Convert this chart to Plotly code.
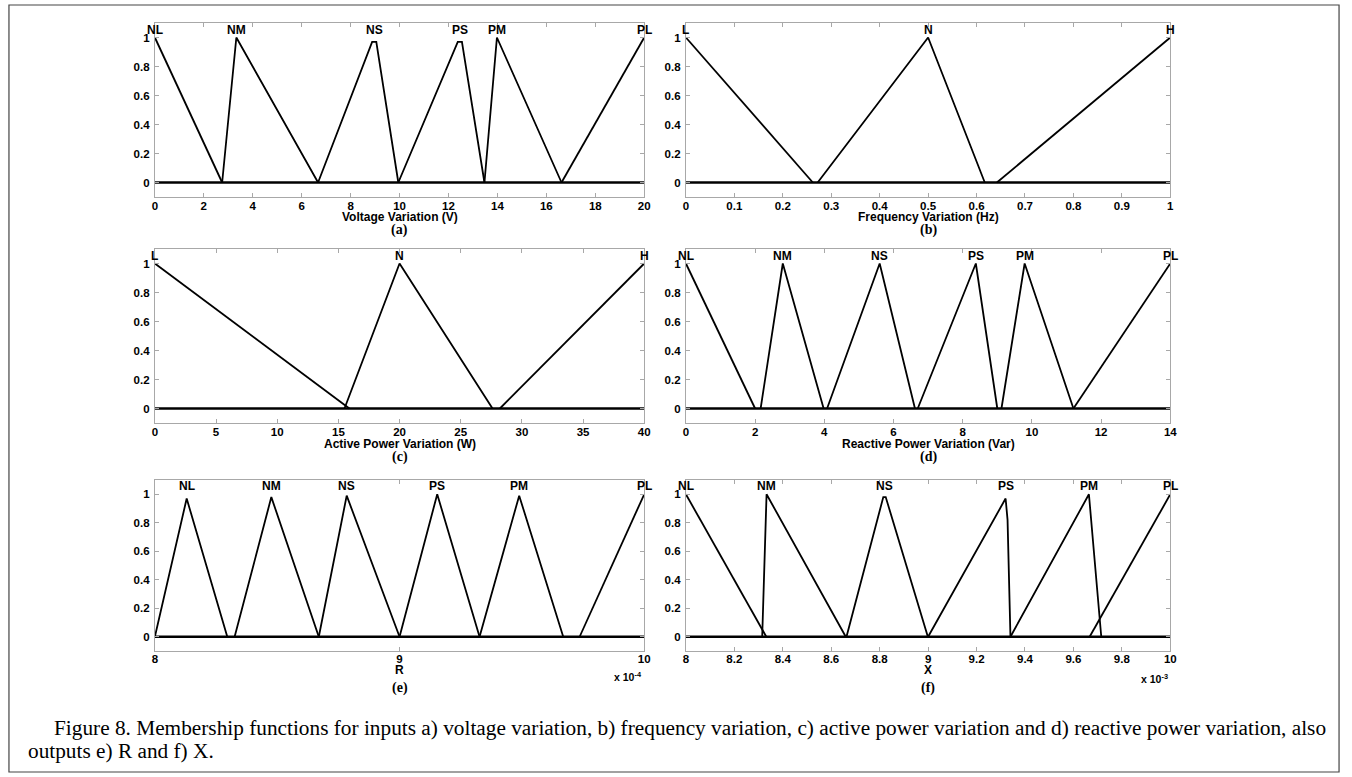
import plotly.graph_objects as go

W, H = 1352, 777

# ---------------- data ----------------
volt_range = [0, 20]
volt_names = ["NL", "NM", "NS", "PS", "PM", "PL"]
volt_x = [[0, 2.75], [2.75, 3.33, 6.67], [6.67, 8.88, 9.05, 9.95],
          [9.95, 12.38, 12.55, 13.47], [13.47, 13.98, 16.62], [16.62, 20]]
volt_y = [[1, 0], [0, 1, 0], [0, 0.97, 0.97, 0], [0, 0.97, 0.97, 0], [0, 1, 0], [0, 1]]
volt_ticks = [0, 2, 4, 6, 8, 10, 12, 14, 16, 18, 20]

freq_range = [0, 1]
freq_names = ["L", "N", "H"]
freq_x = [[0, 0.262], [0.272, 0.5, 0.617], [0.642, 1]]
freq_y = [[1, 0], [0, 1, 0], [0, 1]]
freq_ticks = [0, 0.1, 0.2, 0.3, 0.4, 0.5, 0.6, 0.7, 0.8, 0.9, 1]

act_range = [0, 40]
act_names = ["L", "N", "H"]
act_x = [[0, 15.9], [15.5, 20, 27.6], [28.2, 40]]
act_y = [[1, 0], [0, 1, 0], [0, 1]]
act_ticks = [0, 5, 10, 15, 20, 25, 30, 35, 40]

react_range = [0, 14]
react_names = ["NL", "NM", "NS", "PS", "PM", "PL"]
react_x = [[0, 2.0], [2.16, 2.8, 3.98], [4.08, 5.6, 6.62],
           [6.70, 8.38, 9.0], [9.12, 9.79, 11.2], [11.2, 14]]
react_y = [[1, 0], [0, 1, 0], [0, 1, 0], [0, 1, 0], [0, 1, 0], [0, 1]]
react_ticks = [0, 2, 4, 6, 8, 10, 12, 14]

# R output, values in units of 1e-4
r_range = [8, 10]
r_names = ["NL", "NM", "NS", "PS", "PM", "PL"]
r_x = [[8.0, 8.13, 8.296], [8.326, 8.476, 8.67], [8.67, 8.784, 9.0],
       [9.0, 9.154, 9.327], [9.327, 9.489, 9.669], [9.736, 10]]
r_y = [[0, 0.97, 0], [0, 0.98, 0], [0, 0.99, 0], [0, 1, 0], [0, 0.99, 0], [0, 1]]
r_ticks = [8, 9, 10]

# X output, values in units of 1e-3
x_range = [8, 10]
x_names = ["NL", "NM", "NS", "PS", "PM", "PL"]
x_x = [[8, 8.332], [8.315, 8.333, 8.66], [8.663, 8.815, 8.825, 8.999],
       [9.0, 9.32, 9.328, 9.34], [9.34, 9.664, 9.715], [9.667, 10]]
x_y = [[1, 0], [0, 1, 0], [0, 0.98, 0.98, 0], [0, 0.97, 0.82, 0], [0, 1, 0], [0, 1]]
x_ticks = [8, 8.2, 8.4, 8.6, 8.8, 9, 9.2, 9.4, 9.6, 9.8, 10]

y_ticks = [0, 0.2, 0.4, 0.6, 0.8, 1]

# ---------------- layout helpers ----------------
def px(x):
    return x / W

def py(y):
    return 1 - y / H

LEFT = (153, 646)
RIGHT = (688, 1176)
ROW1, ROW2, ROW3 = (23, 197), (249, 423), (480, 651)
# per row: (tick standoff, title offset, letter offset)
ROWSTYLE = {ROW1: (-2, 20, 33), ROW2: (-2, 21, 34), ROW3: (-3, 19, 37)}

panels = [
    (LEFT, ROW1, volt_names, volt_x, volt_y, volt_range, volt_ticks, "Voltage Variation (V)", "(a)"),
    (RIGHT, ROW1, freq_names, freq_x, freq_y, freq_range, freq_ticks, "Frequency Variation (Hz)", "(b)"),
    (LEFT, ROW2, act_names, act_x, act_y, act_range, act_ticks, "Active Power Variation (W)", "(c)"),
    (RIGHT, ROW2, react_names, react_x, react_y, react_range, react_ticks,
     "Reactive Power Variation (Var)", "(d)"),
    (LEFT, ROW3, r_names, r_x, r_y, r_range, r_ticks, "R", "(e)"),
    (RIGHT, ROW3, x_names, x_x, x_y, x_range, x_ticks, "X", "(f)"),
]

fig = go.Figure()
AX = "#a8a8a8"
tickfont = dict(family="Arial, Liberation Sans, sans-serif", size=11.5, color="black", weight="bold")
annotations = []

for i, (xp, row, names, xs, ys, xr, xt, title, letter) in enumerate(panels):
    top, bot = row
    stand, toff, loff = ROWSTYLE[row]
    n = i + 1
    xa = "x" if n == 1 else f"x{n}"
    ya = "y" if n == 1 else f"y{n}"
    fig.add_trace(go.Scatter(x=xr, y=[0, 0], mode="lines", xaxis=xa, yaxis=ya,
                             line=dict(color="black", width=2.6), hoverinfo="skip",
                             showlegend=False))
    for nm, xv, yv in zip(names, xs, ys):
        fig.add_trace(go.Scatter(x=xv, y=yv, mode="lines", xaxis=xa, yaxis=ya, name=nm,
                                 line=dict(color="black", width=1.8), showlegend=False))
        m = max(yv)
        pk = [a for a, b in zip(xv, yv) if b == m]
        annotations.append(dict(x=sum(pk) / len(pk), y=1.055, xref=xa, yref=ya, text=nm,
                                showarrow=False, font=dict(family="Arial, Liberation Sans", size=12,
                                                           color="black", weight="bold"),
                                xanchor="center", yanchor="middle"))
    axkey = "xaxis" if n == 1 else f"xaxis{n}"
    aykey = "yaxis" if n == 1 else f"yaxis{n}"
    fig.layout[axkey] = dict(domain=[px(xp[0]), px(xp[1])], range=xr, anchor=ya,
                             tickvals=xt, ticks="inside", ticklen=4, tickcolor=AX,
                             showline=True, linecolor=AX, linewidth=1, mirror="ticks",
                             showgrid=False, zeroline=False, tickfont=tickfont,
                             ticklabelstandoff=stand)
    fig.layout[aykey] = dict(domain=[py(bot), py(top)], range=[-0.1, 1.1], anchor=xa,
                             tickvals=y_ticks, ticks="inside", ticklen=4, tickcolor=AX,
                             showline=True, linecolor=AX, linewidth=1, mirror="ticks",
                             showgrid=False, zeroline=False, tickfont=tickfont,
                             ticklabelstandoff=2)
    cx = px((xp[0] + xp[1]) / 2)
    annotations.append(dict(x=cx, y=py(bot + toff), xref="paper", yref="paper", text=title,
                            showarrow=False, xanchor="center", yanchor="middle",
                            font=dict(family="Arial, Liberation Sans", size=12, color="black",
                                      weight="bold")))
    annotations.append(dict(x=cx, y=py(bot + loff), xref="paper", yref="paper", text=letter,
                            showarrow=False, xanchor="center", yanchor="middle",
                            font=dict(family="Times New Roman, Liberation Serif", size=14,
                                      color="black", weight="bold")))

# exponent labels
annotations.append(dict(x=px(LEFT[1]), y=py(676), xref="paper", yref="paper",
                        text="x 10<sup>-4</sup>", showarrow=False, xanchor="right", yanchor="middle",
                        font=dict(family="Arial, Liberation Sans", size=10.5, color="black",
                                  weight="bold")))
annotations.append(dict(x=px(RIGHT[1]), y=py(678), xref="paper", yref="paper",
                        text="x 10<sup>-3</sup>", showarrow=False, xanchor="right", yanchor="middle",
                        font=dict(family="Arial, Liberation Sans", size=10.5, color="black",
                                  weight="bold")))

# caption
cap_font = dict(family="Times New Roman, Liberation Serif, serif", size=21.3, color="black")
annotations.append(dict(x=px(49), y=py(728), xref="paper", yref="paper",
                        text="Figure 8. Membership functions for inputs a) voltage variation, b) frequency variation, c) active power variation and d) reactive power variation, also",
                        showarrow=False, xanchor="left", yanchor="middle", font=cap_font))
annotations.append(dict(x=px(23), y=py(751), xref="paper", yref="paper",
                        text="outputs e) R and f) X.",
                        showarrow=False, xanchor="left", yanchor="middle", font=cap_font))

fig.update_layout(
    width=W, height=H, autosize=False,
    margin=dict(l=0, r=0, t=0, b=0),
    paper_bgcolor="white", plot_bgcolor="white",
    annotations=annotations,
    shapes=[dict(type="rect", xref="paper", yref="paper", x0=px(6), x1=px(1346),
                 y0=py(772), y1=py(5), line=dict(color="#444444", width=1.2))],
)

fig.write_html("out.html", config={"displayModeBar": False},
               post_script="document.body.style.margin='0';")
